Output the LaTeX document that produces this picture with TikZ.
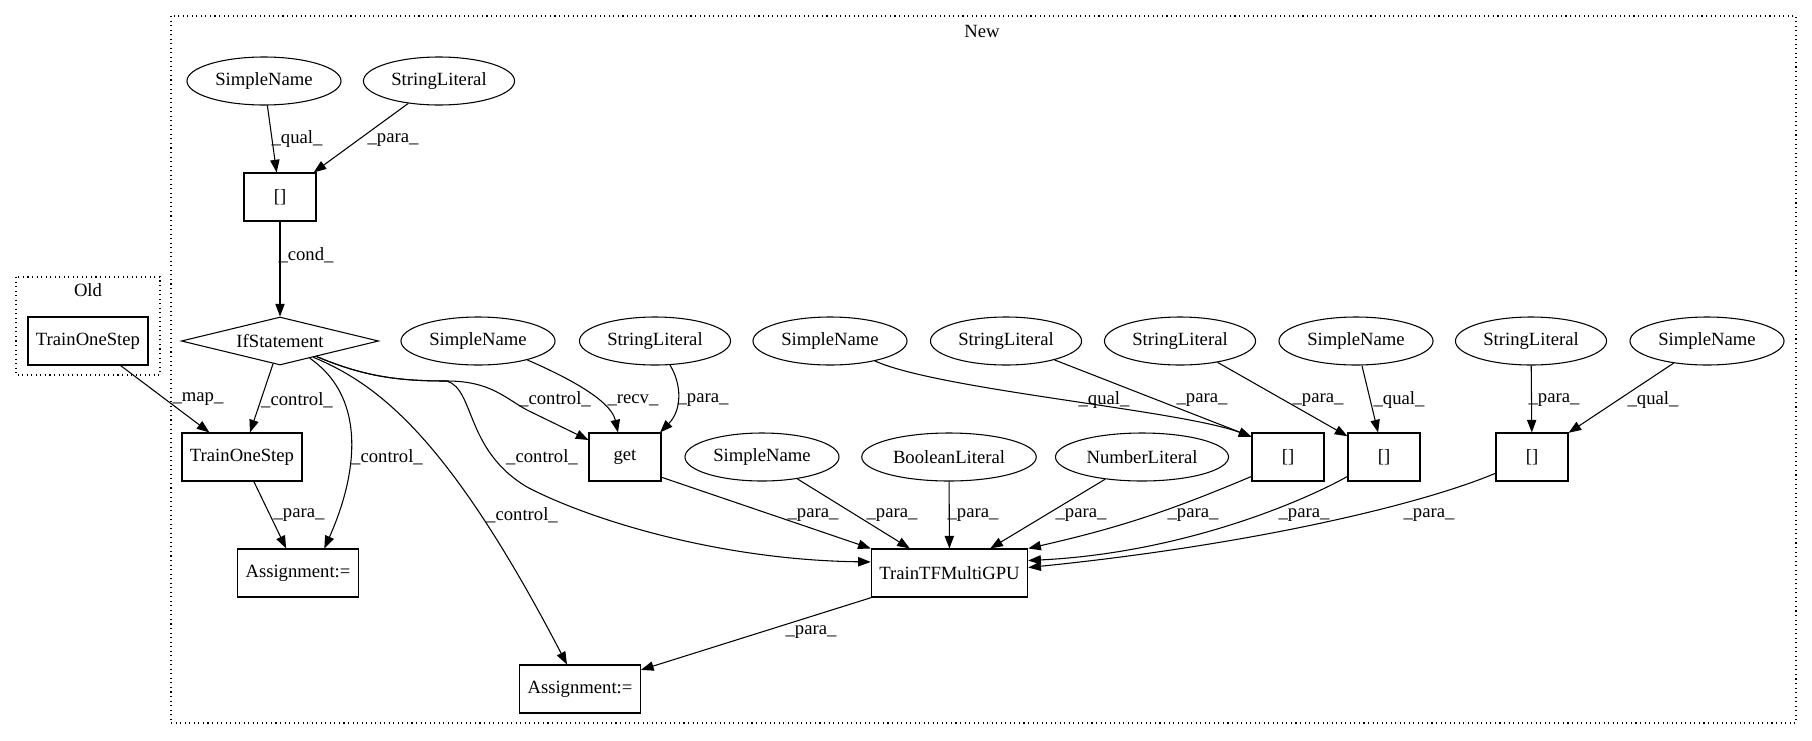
\documentclass[tikz,border=0pt]{standalone}
\usepackage{fontspec}
\setmainfont{Liberation Serif}
\usepackage{tikz}
\usetikzlibrary{shapes.geometric,arrows.meta}

\begin{document}
\begin{tikzpicture}[
    x=0.75pt, y=-0.75pt,
    line width=0.8pt,
    font=\fontsize{14pt}{16pt}\selectfont,
    box/.style={rectangle, draw, minimum width=54pt, minimum height=36pt, inner xsep=6pt},
    oval/.style={ellipse, draw, minimum height=36pt, inner xsep=4.3pt, inner ysep=1pt},
    cond/.style={diamond, draw, aspect=4.1, minimum width=148pt, minimum height=36pt, inner sep=0pt},
    cluster/.style={draw, dash pattern=on 0.8pt off 2.6pt},
    arrow/.style={-{Triangle[length=9.5pt, width=7pt]}},
    lbl/.style={inner sep=1pt}
]
    \useasboundingbox (0,0) rectangle (1812,740);

    % clusters
    \draw[cluster] (16,277) rectangle (160,375);
    \draw[cluster] (171,16) rectangle (1796,723);
    \node (oldlbl) at (88,290) {Old};
    \node (newlbl) at (982,31) {New};

    % old
    \node[box] (oldstep) at (88,341) {TrainOneStep};

    % new
    \node[oval] (nameA) at (264,81) {SimpleName};
    \node[oval] (strA) at (439,81) {StringLiteral};
    \node[box] (idx) at (280,197) {[]};
    \node[cond] (ifst) at (280,341) {IfStatement};
    \node[oval] (nameB) at (478,341) {SimpleName};
    \node[oval] (strB) at (655,341) {StringLiteral};
    \node[oval] (nameC) at (830,341) {SimpleName};
    \node[oval] (strC) at (1006,341) {StringLiteral};
    \node[oval] (strD) at (1180,341) {StringLiteral};
    \node[oval] (nameD) at (1356,341) {SimpleName};
    \node[oval] (strE) at (1531,341) {StringLiteral};
    \node[oval] (nameE) at (1707,341) {SimpleName};

    \node[box] (step) at (242,457) {TrainOneStep};
    \node[box] (get) at (625,457) {get};
    \node[oval] (nameF) at (762,457) {SimpleName};
    \node[oval] (bool) at (949,457) {BooleanLiteral};
    \node[oval] (num) at (1142,457) {NumberLiteral};
    \node[box] (idxA) at (1288,457) {[]};
    \node[box] (idxB) at (1384,457) {[]};
    \node[box] (idxC) at (1532,457) {[]};

    \node[box] (asgA) at (298,573) {Assignment:=};
    \node[box] (tfgpu) at (949.5,573) {TrainTFMultiGPU};
    \node[box] (asgB) at (580,689) {Assignment:=};

    % edges
    \draw[arrow] (nameA) -- (idx) node[lbl] (l1) at (297,139) {\_qual\_};
    \draw[arrow] (strA) -- (idx) node[lbl] (l2) at (393,140) {\_para\_};
    \draw[arrow] (idx) -- (ifst) node[lbl] (l3) at (306,255) {\_cond\_};
    \draw[arrow] (oldstep) -- (step) node[lbl] (l4) at (198,399) {\_map\_};
    \draw[arrow] (ifst.-107) -- (step.72) node[lbl] (l5) at (297,400) {\_control\_};
    \draw[arrow] (ifst.-30) .. controls (370,400) and (355,480) .. (asgA.43)
        node[lbl] (l6) at (387,457) {\_control\_};
    \draw[arrow] (step) -- (asgA) node[lbl] (l7) at (299,515) {\_para\_};
    \draw[arrow] (ifst.-26) .. controls (380,385) and (450,440) .. (asgB.118)
        node[lbl] (l8) at (522,515) {\_control\_};
    \draw[arrow] (ifst.-23) .. controls (365,377) and (400,381) .. (447,381)
        .. controls (490,381) and (505,398) .. (527,410) -- (get.155)
        node[lbl] (l9) at (555,399) {\_control\_};
    \draw[arrow] (ifst.-23) .. controls (365,377) and (400,381) .. (447,381)
        .. controls (475,390) and (465,450) .. (527,487)
        .. controls (590,520) and (720,560) .. (tfgpu.172)
        node[lbl] (l10) at (542,457) {\_control\_};
    \draw[arrow] (nameB.-21) .. controls (585,385) and (612,405) .. (get.106)
        node[lbl] (l11) at (633,400) {\_recv\_};
    \draw[arrow] (strB.-58) .. controls (682,385) and (682,410) .. (get.35)
        node[lbl] (l12) at (703,400) {\_para\_};
    \draw[arrow] (get.-29) -- (tfgpu.north west) node[lbl] (l13) at (813,515) {\_para\_};
    \draw[arrow] (nameF) -- (tfgpu) node[lbl] (l14) at (892,515) {\_para\_};
    \draw[arrow] (bool) -- (tfgpu) node[lbl] (l15) at (973,515) {\_para\_};
    \draw[arrow] (num) -- (tfgpu) node[lbl] (l16) at (1081,515) {\_para\_};
    \draw[arrow] (idxA.-152) to[bend left=5] (tfgpu.north east)
        node[lbl] (l17) at (1193,515) {\_para\_};
    \draw[arrow] (idxB.-152) .. controls (1300,503) and (1180,553) .. (tfgpu.9)
        node[lbl] (l18) at (1304,515) {\_para\_};
    \draw[arrow] (idxC.-156) .. controls (1420,505) and (1250,545) .. (tfgpu.4)
        node[lbl] (l19) at (1429,515) {\_para\_};
    \draw[arrow] (nameC.-24) .. controls (940,390) and (1180,410) .. (idxA.151)
        node[lbl] (l20) at (1104,400) {\_qual\_};
    \draw[arrow] (strC) -- (idxA.151) node[lbl] (l21) at (1202,400) {\_para\_};
    \draw[arrow] (strD) -- (idxB) node[lbl] (l22) at (1318,400) {\_para\_};
    \draw[arrow] (nameD) -- (idxB) node[lbl] (l23) at (1399,400) {\_qual\_};
    \draw[arrow] (strE) -- (idxC) node[lbl] (l24) at (1554,400) {\_para\_};
    \draw[arrow] (nameE) -- (idxC) node[lbl] (l25) at (1653,400) {\_qual\_};
    \draw[arrow] (tfgpu) -- (asgB) node[lbl] (l26) at (811,632) {\_para\_};
\end{tikzpicture}
\end{document}
